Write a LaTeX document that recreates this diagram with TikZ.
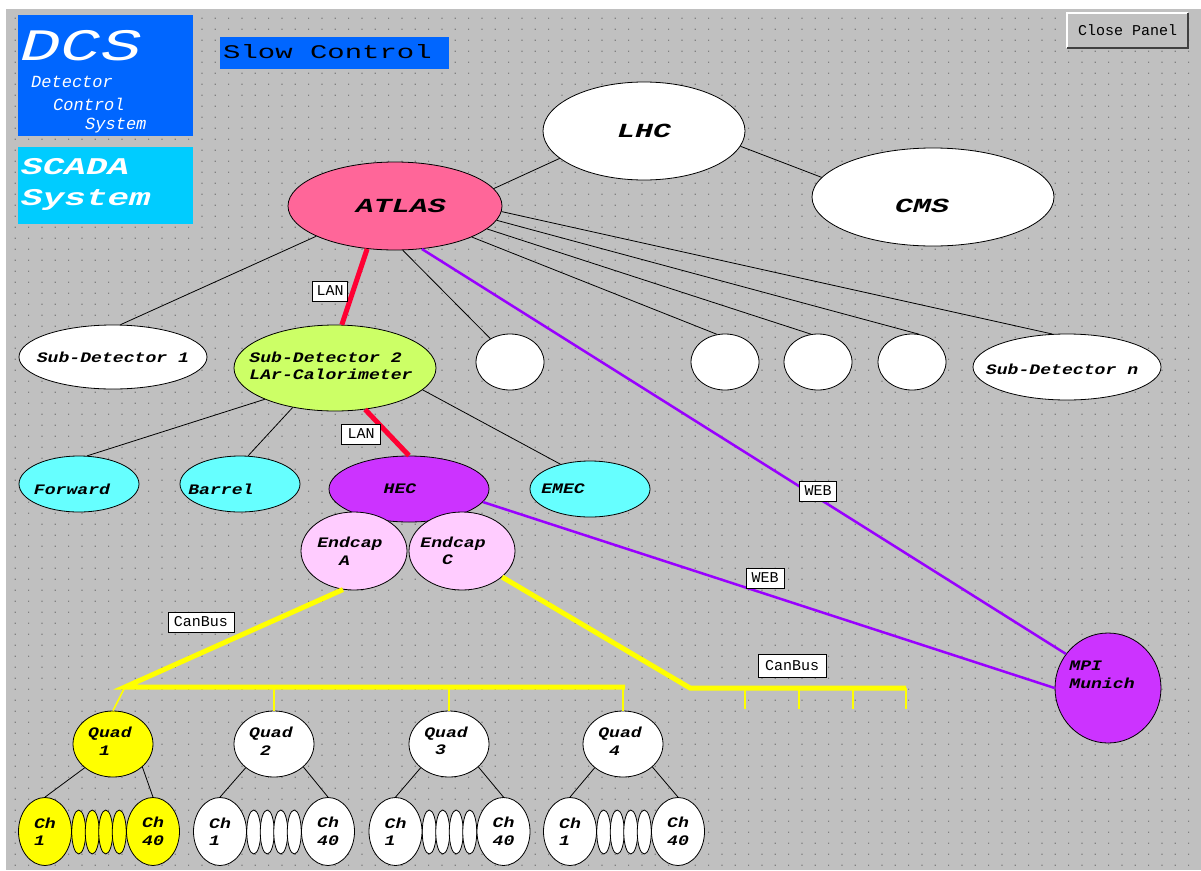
\documentclass[tikz,border=0pt]{standalone}
\usepackage{fontspec}
\usetikzlibrary{shapes.geometric}
\newfontfamily\panelfont{Liberation Mono}
\newfontfamily\widefont[FakeStretch=1.25]{Liberation Mono}
\newfontfamily\titlefont[FakeStretch=1.5]{Liberation Mono}
\definecolor{panelgray}{HTML}{C0C0C0}
\definecolor{dotgray}{HTML}{808080}
\definecolor{dcsblue}{HTML}{0066FF}
\definecolor{scadacyan}{HTML}{00CCFF}
\definecolor{atlaspink}{HTML}{FF6699}
\definecolor{larlime}{HTML}{CCFF66}
\definecolor{partcyan}{HTML}{66FFFF}
\definecolor{hecpurple}{HTML}{CC33FF}
\definecolor{endcappink}{HTML}{FFCCFF}
\definecolor{lanred}{HTML}{FF0033}
\definecolor{webviolet}{HTML}{9900FF}
\definecolor{busyellow}{HTML}{FFFF00}
\begin{document}
\begin{tikzpicture}[x=1pt,y=-1pt,
    blobtext/.style={align=left,font=\widefont\bfseries\itshape\fontsize{14.5}{17.5}\selectfont},
    bigtext/.style={font=\titlefont\bfseries\itshape\fontsize{20}{22}\selectfont},
    blob/.style={ellipse,draw=black,line width=0.8pt,inner sep=0pt},
    inside/.style={label={[blobtext]center:#1}},
    bigin/.style={label={[bigtext]center:#1}},
    wire/.style={black,line width=0.8pt},
    lanline/.style={lanred,line width=5pt},
    webline/.style={webviolet,line width=2.5pt},
    busline/.style={busyellow,line width=5pt},
    drop/.style={busyellow,line width=1.6pt},
    tag/.style={draw=black,fill=white,line width=0.8pt,inner sep=0pt,minimum height=20,
      font=\panelfont\fontsize{15}{15}\selectfont}]
    % panel
    \useasboundingbox (0,0) rectangle (1201,870);
    \fill[white] (0,0) rectangle (1201,870);
    \fill[panelgray] (6,9) rectangle (1201,870);
    \fill[dotgray] \foreach \i in {0,...,88} {\foreach \j in {0,...,77} {(14.7+13.333*\i,17.7+11*\j) rectangle ++(1.2,1.2)}};

    % title boxes
    \node[fill=dcsblue,minimum width=175,minimum height=121,inner sep=0,anchor=north west] (dcsbox) at (18,15) {};
    \node[anchor=west,white,inner sep=0,font=\titlefont\itshape\fontsize{45}{45}\selectfont] (dcs) at (20,46) {DCS};
    \node[anchor=west,white,inner sep=0,font=\panelfont\itshape\fontsize{17}{17}\selectfont] (detector) at (31,82) {Detector};
    \node[anchor=west,white,inner sep=0,font=\panelfont\itshape\fontsize{17}{17}\selectfont] (control) at (53,104) {Control};
    \node[anchor=west,white,inner sep=0,font=\panelfont\itshape\fontsize{17}{17}\selectfont] (system) at (85,126) {System};
    \node[fill=scadacyan,minimum width=175,minimum height=77,inner sep=0,anchor=north west] (scadabox) at (18,147) {};
    \node[anchor=west,white,inner sep=0,font=\titlefont\bfseries\itshape\fontsize{24}{24}\selectfont] (scada) at (21,167) {SCADA};
    \node[anchor=west,white,inner sep=0,font=\titlefont\bfseries\itshape\fontsize{24}{24}\selectfont] (scadasys) at (21,200) {System};
    \node[fill=dcsblue,minimum width=229,minimum height=32,inner sep=0,anchor=north west] (slowbox) at (220,37) {};
    \node[anchor=west,inner sep=0,font=\titlefont\fontsize{19.3}{20}\selectfont] (slow) at (223,52) {Slow Control};
    \node[fill=panelgray,minimum width=121,minimum height=35,inner sep=0,
      font=\panelfont\fontsize{15}{15}\selectfont] (close) at (1127.5,30.5) {Close Panel};
    \draw[white,line width=1.5pt] (close.south west) |- (close.north east);
    \draw[black!75,line width=2pt] (close.south west) -| (close.north east);

    % experiments
    \node[blob,fill=white,minimum width=202,minimum height=98,bigin=LHC] (lhc) at (644,131) {};
    \node[blob,fill=white,minimum width=242,minimum height=98,
      label={[bigtext,xshift=-11pt,yshift=-9pt]center:CMS}] (cms) at (933,197) {};
    \node[blob,fill=atlaspink,minimum width=214,minimum height=88,
      label={[bigtext,xshift=6pt]center:ATLAS}] (atlas) at (395,206) {};

    % sub-detectors
    \node[blob,fill=white,minimum width=188,minimum height=64,inside={Sub-Detector 1}] (sd1) at (113,357) {};
    \node[blob,fill=larlime,minimum width=202,minimum height=86,
      label={[blobtext,xshift=-4pt,yshift=2pt]center:Sub-Detector 2\\LAr-Calorimeter}] (sd2) at (335,368) {};
    \node[blob,fill=white,minimum width=68,minimum height=56] (ca) at (510,362) {};
    \node[blob,fill=white,minimum width=68,minimum height=56] (cb) at (725,362) {};
    \node[blob,fill=white,minimum width=68,minimum height=56] (cc) at (818,362) {};
    \node[blob,fill=white,minimum width=68,minimum height=56] (cd) at (912,362) {};
    \node[blob,fill=white,minimum width=188,minimum height=66,
      label={[blobtext,xshift=-5pt,yshift=-2pt]center:Sub-Detector n}] (sdn) at (1067,367) {};

    % calorimeter parts
    \node[blob,fill=partcyan,minimum width=120,minimum height=56,
      label={[blobtext,xshift=-7pt,yshift=-5pt]center:Forward}] (fwd) at (79,484) {};
    \node[blob,fill=partcyan,minimum width=120,minimum height=56,
      label={[blobtext,xshift=-19pt,yshift=-5pt]center:Barrel}] (bar) at (240,484) {};
    \node[blob,fill=hecpurple,minimum width=160,minimum height=66,
      label={[blobtext,xshift=-9pt]center:HEC}] (hec) at (409,489) {};
    \node[blob,fill=partcyan,minimum width=120,minimum height=56,
      label={[blobtext,xshift=-27pt]center:EMEC}] (emec) at (590,489) {};
    \node[blob,fill=endcappink,minimum width=106,minimum height=78,
      label={[blobtext,xshift=-4pt]center:Endcap\\\hphantom{En}A}] (eca) at (354,551) {};
    \node[blob,fill=endcappink,minimum width=106,minimum height=78,
      label={[blobtext,xshift=-9pt]center:Endcap\\\hphantom{En}C}] (ecc) at (462,551) {};
    \node[blob,fill=hecpurple,minimum width=106,minimum height=110,
      label={[blobtext,xshift=-6pt,yshift=13pt]center:MPI\\Munich}] (mpi) at (1108,688) {};

    % quadrants and channels
    \foreach \n/\g/\q/\col in {1/99/113/busyellow,2/274/274/white,3/449.5/449/white,4/624/623/white} {
        \node[blob,fill=\col,minimum width=80,minimum height=66,
          label={[blobtext,xshift=-3pt,yshift=3pt]center:Quad\\\hphantom{Q}\n}] (q\n) at (\q,744) {};
        \foreach \dx [count=\k] in {-20.25,-6.75,6.75,20.25}
            \node[blob,fill=\col,minimum width=14,minimum height=44] (s\n-\k) at ({\g+\dx},832) {};
        \node[blob,fill=\col,minimum width=53,minimum height=68,inside={Ch\\1}] (ch\n-1) at (\g-54,831.5) {};
        \node[blob,fill=\col,minimum width=53,minimum height=68,inside={Ch\\40}] (ch\n-40) at (\g+54,831.5) {};
        \draw[wire] (q\n.220) -- (ch\n-1.north);
        \draw[wire] (q\n.-38) -- (ch\n-40.north);
    }

    % connections
    \draw[wire] (lhc.198) -- (atlas.10);
    \draw[wire] (lhc.-9) -- (cms.170);
    \draw[wire] (atlas.201) -- (sd1.77);
    \draw[wire] (atlas.-80) -- (ca.130);
    \draw[wire] (atlas.-22) -- (cb.106);
    \draw[wire] (atlas.-14) -- (cc.104);
    \draw[wire] (atlas.-8) -- (cd.76);
    \draw[wire] (atlas.-3) -- (sdn.114);
    \draw[wire] (sd2.204) -- (fwd.74);
    \draw[wire] (sd2.223) -- (bar.74);
    \draw[wire] (sd2.-14) -- (emec.140);
    \draw[lanline] (atlas.237) -- (sd2.81);
    \draw[lanline] (sd2.-54) -- (hec.90);
    \draw[webline] (atlas.-58) -- (mpi.141);
    \draw[webline] (hec.-10) -- (mpi.180);

    % can buses
    \coordinate (busa) at (125,687);
    \coordinate (busa-end) at (625,687);
    \draw[busline] (eca.254) -- (busa) -- (busa-end);
    \draw[drop] (busa) -- (q1.north);
    \foreach \n in {2,3,4}
        \draw[drop] (q\n.north |- busa) -- (q\n.north);
    \coordinate (busc) at (690,688);
    \coordinate (busc-end) at (906,688);
    \draw[busline] (ecc.-33) -- (busc) -- (busc-end);
    \foreach \x [count=\k] in {745,799,853,906} {
        \coordinate (stub\k) at (\x,709);
        \draw[drop] (stub\k |- busc) -- (stub\k);
    }

    % link labels
    \node[tag,minimum width=35] (lan1) at (330,291) {LAN};
    \node[tag,minimum width=39] (lan2) at (361,434) {LAN};
    \node[tag,minimum width=37] (web1) at (818,491) {WEB};
    \node[tag,minimum width=38] (web2) at (765,578) {WEB};
    \node[tag,minimum width=66] (can1) at (201,622) {CanBus};
    \node[tag,minimum width=68,minimum height=23] (can2) at (792,666) {CanBus};
\end{tikzpicture}
\end{document}
